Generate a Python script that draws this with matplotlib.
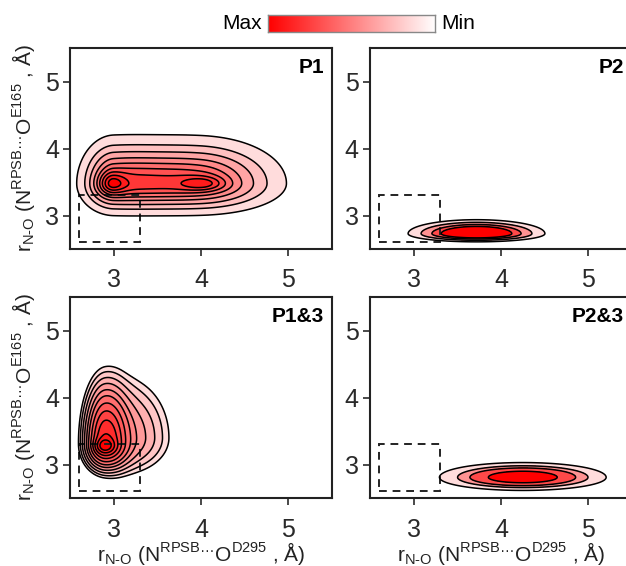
import numpy as np
import matplotlib.pyplot as plt
from matplotlib.colors import LinearSegmentedColormap
from matplotlib.patches import Rectangle

plt.rcParams['font.family'] = ['Liberation Sans', 'DejaVu Sans']

# panel names
panel_names = ["P1", "P2", "P1&3", "P2&3"]

# density blobs:
# (x centre, y centre, left width, right width, lower width, upper width, weight)
p1_blobs = [(2.98, 3.48, 0.11, 0.11, 0.11, 0.11, 0.30),
            (4.02, 3.48, 0.17, 0.17, 0.07, 0.07, 0.26),
            (3.00, 3.48, 0.17, 0.50, 0.20, 0.30, 0.70),
            (4.00, 3.48, 0.50, 0.42, 0.20, 0.30, 0.65)]
p2_blobs = [(3.72, 2.73, 0.32, 0.32, 0.05, 0.085, 1.0)]
p13_blobs = [(2.90, 3.28, 0.07, 0.07, 0.07, 0.07, 0.35),
             (2.90, 3.30, 0.12, 0.14, 0.19, 0.45, 0.60),
             (3.10, 3.40, 0.20, 0.30, 0.30, 0.50, 0.15)]
p23_blobs = [(4.25, 2.81, 0.39, 0.39, 0.08, 0.09, 1.0)]

# contour levels as fraction of each panel's peak
p1_levels = [0.04, 0.12, 0.22, 0.34, 0.46, 0.58, 0.70, 0.82, 0.93, 1.01]
p2_levels = [0.05, 0.14, 0.28, 0.45, 1.01]
p13_levels = [0.03, 0.045, 0.068, 0.10, 0.145, 0.20, 0.28, 0.38, 0.50, 0.65, 0.82, 1.01]
p23_levels = [0.05, 0.16, 0.30, 0.60, 1.01]

# dashed reference box: x0, y0, width, height
ref_box = (2.6, 2.6, 0.7, 0.7)

ticks = [3, 4, 5]

xlab = 'r$_{\\mathregular{N\u2010O}}$ (N$^{\\mathregular{RPSB\u2026}}$O$^{\\mathregular{D295}}$ , Å)'
ylab = 'r$_{\\mathregular{N\u2010O}}$ (N$^{\\mathregular{RPSB\u2026}}$O$^{\\mathregular{E165}}$ , Å)'

cmap = LinearSegmentedColormap.from_list('wr', ['#ffffff', '#ff0000'])

gx = np.linspace(2.5, 5.5, 400)
gy = np.linspace(2.5, 5.5, 400)
xx, yy = np.meshgrid(gx, gy)


def density(blobs):
    # sum of split gaussians, scaled to a peak of 1
    z = np.zeros_like(xx)
    for mx, my, sxl, sxr, syd, syu, w in blobs:
        sx = np.where(xx < mx, sxl, sxr)
        sy = np.where(yy < my, syd, syu)
        z += w * np.exp(-((xx - mx) ** 2 / (2 * sx ** 2) + (yy - my) ** 2 / (2 * sy ** 2)))
    return z / z.max()


def draw_panel(ax, blobs, levels, name, show_x, show_y):
    z = density(blobs)
    lv = np.array(levels)
    n = len(lv) - 1
    cols = [cmap(0.14 + 0.86 * i / (n - 1)) for i in range(n)]
    ax.contourf(xx, yy, z, levels=lv, colors=cols)
    ax.contour(xx, yy, z, levels=lv[:-1], colors='black', linewidths=1.1)
    ax.add_patch(Rectangle(ref_box[:2], ref_box[2], ref_box[3], fill=False,
                           ls=(0, (4, 3)), lw=1.4, ec='#222222'))
    ax.set_xlim(2.5, 5.5)
    ax.set_ylim(2.5, 5.5)
    ax.set_xticks(ticks)
    ax.set_yticks(ticks)
    ax.tick_params(direction='out', length=5, width=1.2, labelsize=18,
                   colors='#2a2a2a', pad=3)
    ax.tick_params(axis='x', pad=9)
    for s in ax.spines.values():
        s.set_linewidth(1.5)
        s.set_color('#222222')
    ax.text(0.97, 0.95, name, transform=ax.transAxes, ha='right', va='top',
            fontsize=15, fontweight='bold')
    if show_x:
        ax.set_xlabel(xlab, fontsize=15, color='#222222')
        ax.xaxis.set_label_coords(0.5, -0.21)
    if show_y:
        ax.set_ylabel(ylab, fontsize=15, color='#222222')
        ax.yaxis.set_label_coords(-0.125, 0.5)


fig = plt.figure(figsize=(6.26, 5.66), dpi=100)
w, h = 0.4185, 0.355
ax1 = fig.add_axes([0.1118, 0.560, w, h])
ax2 = fig.add_axes([0.591, 0.560, w, h])
ax3 = fig.add_axes([0.1118, 0.120, w, h])
ax4 = fig.add_axes([0.591, 0.120, w, h])

draw_panel(ax1, p1_blobs, p1_levels, panel_names[0], False, True)
draw_panel(ax2, p2_blobs, p2_levels, panel_names[1], False, False)
draw_panel(ax3, p13_blobs, p13_levels, panel_names[2], True, True)
draw_panel(ax4, p23_blobs, p23_levels, panel_names[3], True, False)

# Max / Min colour bar on top
cax = fig.add_axes([0.428, 0.943, 0.267, 0.030])
grad = np.linspace(1, 0, 256)[None, :]
cax.imshow(grad, aspect='auto', cmap=cmap)
cax.set_xticks([])
cax.set_yticks([])
for s in cax.spines.values():
    s.set_linewidth(1.0)
    s.set_color('#888888')
fig.text(0.418, 0.958, 'Max', ha='right', va='center', fontsize=15)
fig.text(0.705, 0.958, 'Min', ha='left', va='center', fontsize=15)

fig.savefig('out.png', dpi=100)
